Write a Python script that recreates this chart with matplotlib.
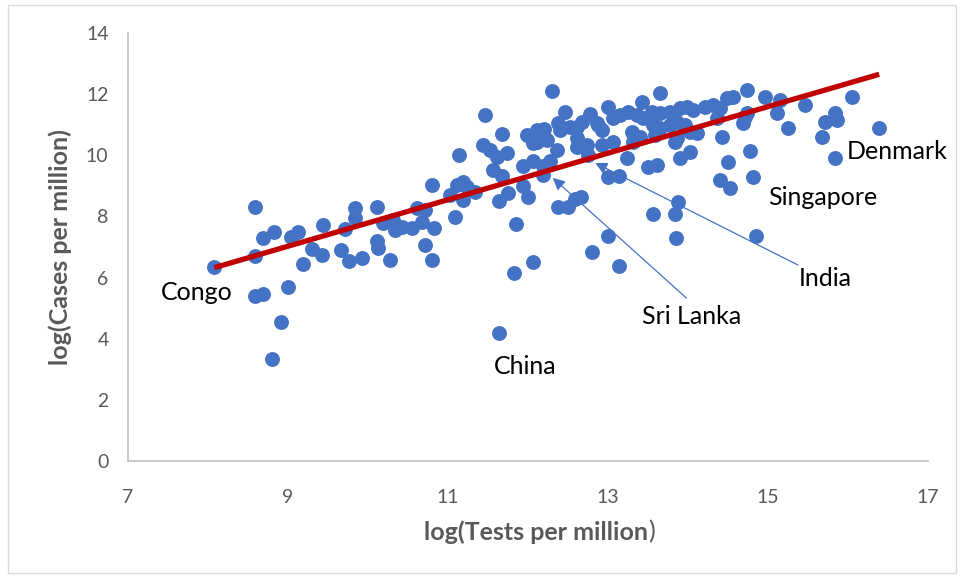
import matplotlib
matplotlib.use("Agg")
import matplotlib.pyplot as plt
from matplotlib.patches import Rectangle
import numpy as np

plt.rcParams['font.family'] = ['Lato', 'DejaVu Sans']

# log(Tests per million)
tests = [
    8.08, 8.59, 8.59, 8.69, 8.83, 8.59, 8.69, 9.00, 8.91, 8.80,
    9.04, 9.13, 9.19, 9.30, 9.43, 9.44, 9.66, 9.71, 9.76, 9.84,
    9.84, 9.93, 10.11, 10.11, 10.13, 10.19, 10.28, 10.31, 10.34, 10.43,
    10.55, 10.61, 10.71, 10.68, 10.71, 10.80, 10.80, 10.83, 11.09, 11.03,
    11.11, 11.19, 11.24, 11.34, 11.19, 11.14, 11.44, 11.53, 11.61, 11.74,
    11.46, 11.68, 11.56, 11.68, 11.75, 11.64, 11.85, 11.83, 11.64, 12.06,
    11.94, 12.00, 11.99, 12.11, 12.20, 12.11, 12.24, 12.06, 12.30, 12.46,
    12.38, 12.40, 12.53, 12.61, 12.36, 12.61, 12.74, 12.75, 11.94, 12.06,
    12.19, 12.28, 12.19, 12.38, 12.50, 12.59, 12.66, 12.80, 13.00, 13.14,
    13.00, 13.14, 13.24, 13.06, 12.88, 13.00, 12.78, 12.68, 12.86, 12.93,
    13.06, 13.15, 13.25, 13.36, 13.44, 13.55, 13.43, 13.65, 13.65, 13.78,
    13.90, 13.99, 14.06, 14.21, 14.31, 14.40, 14.49, 14.36, 13.56, 13.65,
    13.78, 13.86, 13.96, 14.03, 14.11, 13.86, 13.84, 13.59, 13.30, 13.31,
    13.40, 12.61, 12.93, 13.50, 13.61, 13.90, 14.03, 14.43, 14.50, 14.40,
    14.53, 13.56, 13.84, 13.88, 13.85, 14.85, 14.56, 14.74, 14.96, 15.15,
    15.11, 15.25, 15.46, 15.71, 15.84, 15.86, 15.68, 15.84, 16.05, 16.39,
    14.71, 14.74, 14.69, 14.78, 14.81,
]
# log(Cases per million)
cases = [
    6.35, 8.31, 6.71, 7.29, 7.49, 5.40, 5.46, 5.69, 4.55, 3.34,
    7.33, 7.49, 6.44, 6.93, 6.74, 7.72, 6.90, 7.59, 6.54, 8.28,
    7.95, 6.64, 8.31, 7.20, 6.97, 7.79, 6.58, 7.88, 7.56, 7.65,
    7.62, 8.28, 8.21, 7.82, 7.07, 9.03, 6.58, 7.62, 7.98, 8.70,
    9.03, 9.13, 8.96, 8.80, 8.54, 10.01, 10.34, 10.17, 9.94, 10.08,
    11.32, 10.70, 9.52, 9.32, 8.77, 8.51, 7.75, 6.15, 4.19, 6.51,
    9.00, 8.64, 10.66, 10.83, 10.86, 10.44, 10.50, 10.40, 12.10, 11.42,
    11.06, 10.83, 10.93, 10.93, 10.17, 10.27, 10.34, 10.01, 9.65, 9.81,
    9.65, 9.81, 9.36, 8.31, 8.31, 8.57, 8.64, 6.84, 7.36, 6.38,
    9.29, 9.32, 9.91, 10.44, 10.99, 11.58, 11.35, 11.09, 11.06, 10.83,
    11.22, 11.32, 11.42, 11.32, 11.22, 11.42, 11.74, 12.04, 11.38, 11.42,
    11.55, 11.58, 11.48, 11.58, 11.65, 11.55, 11.87, 11.22, 10.99, 10.89,
    10.99, 11.09, 10.99, 10.76, 10.73, 10.57, 10.44, 10.66, 10.76, 10.44,
    10.60, 10.57, 10.34, 9.62, 9.68, 9.91, 10.11, 10.60, 9.78, 9.19,
    8.93, 8.08, 8.08, 8.47, 7.29, 7.36, 11.91, 12.14, 11.91, 11.81,
    11.38, 10.89, 11.65, 11.09, 11.38, 11.15, 10.60, 9.91, 11.91, 10.89,
    11.25, 11.38, 11.06, 10.14, 9.29,
]

trend_slope = 0.761
trend_intercept = 0.176

x_ticks = [7, 9, 11, 13, 15, 17]
y_ticks = [0, 2, 4, 6, 8, 10, 12, 14]

plain_labels = {
    "Congo": (7.86, 5.5),
    "China": (11.96, 3.1),
    "Singapore": (15.69, 8.62),
    "Denmark": (16.62, 10.12),
}
arrow_labels = {
    "Sri Lanka": ((14.05, 4.72), (13.98, 5.33), (12.31, 9.26)),
    "India": ((15.71, 5.97), (15.375, 6.41), (12.84, 9.75)),
}

fig = plt.figure(figsize=(9.64, 5.78), dpi=100)
ax = fig.add_axes([128/964, 1-461/578, 800/964, 428/578])

ax.scatter(tests, cases, s=115, color='#4472C4', linewidths=0, zorder=3)

tx = np.array([min(tests), max(tests)])
ax.plot(tx, trend_slope*tx + trend_intercept, color='#C00000', lw=3.8,
        solid_capstyle='butt', zorder=4)

for name, (x, y) in plain_labels.items():
    ax.text(x, y, name, ha='center', va='center', fontsize=18, color='black', zorder=6)
for name, ((lx, ly), (sx, sy), (ex, ey)) in arrow_labels.items():
    ax.text(lx, ly, name, ha='center', va='center', fontsize=18, color='black', zorder=6)
    ax.annotate('', xy=(ex, ey), xytext=(sx, sy),
                arrowprops=dict(arrowstyle='-|>', color='#4472C4', lw=0.9,
                                mutation_scale=18, shrinkA=0, shrinkB=0),
                zorder=5)

ax.set_xlim(7, 17)
ax.set_ylim(0, 14)
ax.set_xticks(x_ticks)
ax.set_yticks(y_ticks)
ax.tick_params(length=0, labelsize=14, labelcolor='#595959', pad=14)
ax.tick_params(axis='x', pad=20)
for s in ['top', 'right']:
    ax.spines[s].set_visible(False)
for s in ['left', 'bottom']:
    ax.spines[s].set_color('#BFBFBF')
    ax.spines[s].set_linewidth(1.2)

ax.set_ylabel('log(Cases per million)', fontsize=18, fontweight='bold',
              color='#595959', labelpad=10)

t1 = fig.text(648/964, 1-532/578, 'log(Tests per million', fontsize=18,
              fontweight='bold', color='#595959', ha='right', va='center')
ax.annotate(')', xy=(1, 0), xycoords=t1, ha='left', va='bottom',
            fontsize=18, color='#595959', annotation_clip=False)

fig.patches.append(Rectangle((8/964, 5/578), 948/964, 568/578, transform=fig.transFigure,
                             fill=False, edgecolor='#D9D9D9', lw=1.0))

fig.savefig('out.png', dpi=100)
